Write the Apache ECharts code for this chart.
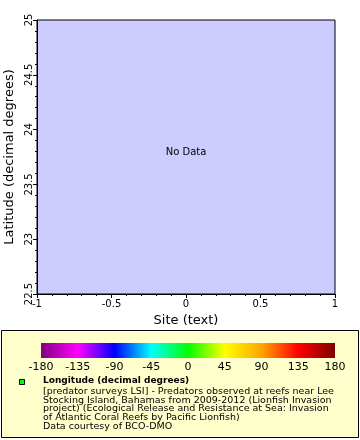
<!DOCTYPE html>
<html><head><meta charset="utf-8">
<script src="https://cdn.jsdelivr.net/npm/echarts@6/dist/echarts.min.js"></script>
<style>html,body{margin:0;padding:0;background:#fff}#c{width:360px;height:440px}</style>
</head><body><div id="c"></div>
<script>
// Data (the reference shows "No Data")
const siteValues = [];
const latitudeValues = [];
const longitudeValues = [];
const xRange = [-1, 1];
const yRange = [22.5, 25];
const colorRange = [-180, 180];
const colorStops = ['#800080','#ff00ff','#0000ff','#00ffff','#00ff00','#ffff00','#ffa500','#ff0000','#800000'];
const legendTitle = 'Longitude (decimal degrees)';
const legendLines = [
  '[predator surveys LSI] - Predators observed at reefs near Lee',
  'Stocking Island, Bahamas from 2009-2012 (Lionfish Invasion',
  'project) (Ecological Release and Resistance at Sea: Invasion',
  'of Atlantic Coral Reefs by Pacific Lionfish)',
  'Data courtesy of BCO-DMO'
];

const FONT = 'DejaVu Sans';
const chart = echarts.init(document.getElementById('c'), null, {renderer:'canvas'});
const points = siteValues.map((s,i)=>[s, latitudeValues[i], longitudeValues[i]]);

const cbLeft = 41, cbTop = 343, cbW = 294, cbH = 15;
const graphics = [
  {type:'rect', shape:{x:1.5,y:330.5,width:357,height:107}, style:{fill:'#ffffcc', stroke:'#000', lineWidth:1}, z:0},
  {type:'rect', shape:{x:cbLeft,y:cbTop,width:cbW,height:cbH}, style:{fill:new echarts.graphic.LinearGradient(0,0,1,0, colorStops.map((c,i)=>({offset:i/(colorStops.length-1), color:c})))}, z:1},
  {type:'rect', shape:{x:19.5,y:379.5,width:5,height:5}, style:{fill:'#00ff00', stroke:'#000', lineWidth:1}, z:2},
  {type:'text', x:43, y:381, style:{text:legendTitle, fontFamily:FONT, fontWeight:'bold', fontSize:9, fill:'#000', verticalAlign:'middle'}, z:2},
  {type:'text', x:186, y:152, style:{text:'No Data', fontFamily:FONT, fontSize:10, fill:'#000', align:'center', verticalAlign:'middle'}, z:5}
];
legendLines.forEach((t,i)=>graphics.push({type:'text', x:43, y:391.5+i*8.7, style:{text:t, fontFamily:FONT, fontSize:9.5, fill:'#000', verticalAlign:'middle'}, z:2}));

chart.setOption({
  animation:false,
  backgroundColor:'#fff',
  grid:[
    {left:37, right:25, top:20, bottom:146, show:true, backgroundColor:'#ccccff', borderColor:'#000', borderWidth:1, containLabel:false, outerBoundsMode:'none'},
    {left:cbLeft, width:cbW, top:cbTop, height:cbH, show:false, containLabel:false, outerBoundsMode:'none'}
  ],
  xAxis:[
    {type:'value', gridIndex:0, min:xRange[0], max:xRange[1], interval:0.5,
     name:'Site (text)', nameLocation:'middle', nameGap:20,
     nameTextStyle:{fontFamily:FONT, fontSize:13, color:'#000'},
     axisLine:{show:true, onZero:false, lineStyle:{color:'#000'}},
     axisTick:{show:true, length:4, lineStyle:{color:'#000'}},
     minorTick:{show:true, splitNumber:5, length:2, lineStyle:{color:'#000'}},
     splitLine:{show:false},
     axisLabel:{fontFamily:FONT, fontSize:10, color:'#000', margin:5}},
    {type:'value', gridIndex:1, min:colorRange[0], max:colorRange[1], interval:45,
     axisLine:{show:false}, axisTick:{show:false}, splitLine:{show:false},
     axisLabel:{fontFamily:FONT, fontSize:11, color:'#000', margin:4}}
  ],
  yAxis:[
    {type:'value', gridIndex:0, min:yRange[0], max:yRange[1], interval:0.5,
     name:'Latitude (decimal degrees)', nameLocation:'middle', nameGap:15,
     nameTextStyle:{fontFamily:FONT, fontSize:13, color:'#000'},
     axisLine:{show:true, onZero:false, lineStyle:{color:'#000'}},
     axisTick:{show:true, length:4, lineStyle:{color:'#000'}},
     minorTick:{show:true, splitNumber:5, length:2, lineStyle:{color:'#000'}},
     splitLine:{show:false},
     axisLabel:{fontFamily:FONT, fontSize:10, color:'#000', rotate:90, margin:3}},
    {type:'value', gridIndex:1, show:false, min:0, max:1}
  ],
  series:[
    {type:'scatter', xAxisIndex:0, yAxisIndex:0, data:points, symbolSize:5, itemStyle:{color:'#00ff00'}}
  ],
  graphic:graphics
});
</script></body></html>
